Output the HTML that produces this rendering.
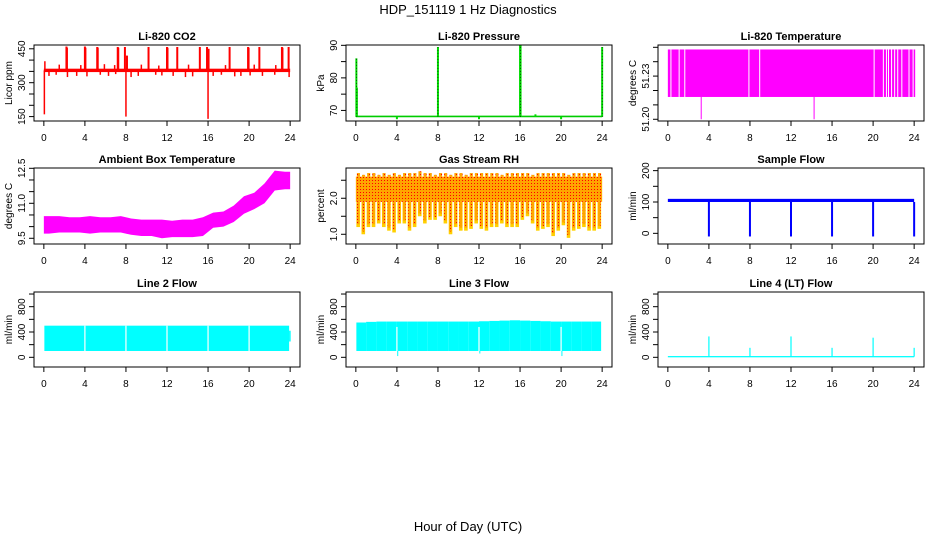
<!DOCTYPE html>
<html><head><meta charset="utf-8"><style>
body{margin:0;background:#fff}
svg text{font-family:"Liberation Sans",sans-serif}
</style></head><body>
<svg id="c" width="936" height="540" xmlns="http://www.w3.org/2000/svg">
<rect width="936" height="540" fill="#fff"/>
<text x="468" y="14" text-anchor="middle" font-size="13">HDP_151119 1 Hz Diagnostics</text>
<text x="468" y="531" text-anchor="middle" font-size="13">Hour of Day (UTC)</text>
</svg>
<script>
// ---- data ----
const xTicks = [0,4,8,12,16,20,24];
const co2Ticks = [150,200,250,300,350,400,450];
const co2TickLabels = ["150","","","300","","","450"];
const co2Base = [347,362];
const co2SpikeX = [0.05,0.1,2.2,2.25,4,4.05,5.2,5.25,7.2,7.25,7.9,8.0,8.1,10.2,12,12.05,13,15.2,15.9,16.0,16.05,18.1,19.9,19.95,21,23.2,23.25,23.85,0.5,1.2,2.3,3.2,4.2,5.5,6.3,7.0,8.5,9.2,10.9,11.5,12.6,13.8,14.5,16.5,17.3,18.6,19.2,20.1,21.3,22.5,23.9,1.5,3.6,5.9,6.9,9.5,11.2,14.1,17.7,20.5,22.6];
const co2SpikeY = [160,395,460,455,460,455,458,455,458,455,458,150,420,458,458,455,458,458,458,140,450,458,458,455,458,458,455,458,330,335,325,330,328,335,330,338,325,330,335,332,330,325,328,330,335,328,330,332,330,335,325,380,378,382,378,380,376,380,378,380,378];
const presTicks = [70,75,80,85,90];
const presTickLabels = ["70","","80","","90"];
const presBase = [67.9,68.4];
const presSpikeX = [0.05,0.1,8,16,16.05,24,4,12,20,17.5];
const presSpikeY = [86,77,89.5,90,90,89.5,67.3,67.3,67.3,68.8];
const tempTicks = [51.20,51.21,51.22,51.23,51.24,51.25];
const tempTickLabels = ["51.20","","","51.23","",""];
const tempBand = [51.2155,51.2485];
const tempGapX = [0.3,1.1,1.65,7.9,8.95,20.1,21.0,21.3,21.5,21.8,22.1,22.4,22.8,23.5,23.9];
const tempDipX = [3.25,14.25];
const tempDipY = [51.2,51.2];
const ambTicks = [9.5,10,10.5,11,11.5,12,12.5];
const ambTickLabels = ["9.5","","","11.0","","","12.5"];
const ambX  = [0.5,1.5,2.5,3.5,4.5,5.5,6.5,7.5,8.5,9.5,10.5,11.5,12.5,13.5,14.5,15.5,16.5,17.5,18.5,19.5,20.5,21.5,22.5,23.5];
const ambLo = [9.7,9.75,9.75,9.75,9.7,9.75,9.75,9.75,9.65,9.6,9.6,9.5,9.55,9.55,9.55,9.6,9.95,10.0,10.2,10.55,10.75,11.0,11.55,11.6];
const ambHi = [10.45,10.45,10.4,10.4,10.45,10.4,10.4,10.45,10.35,10.3,10.3,10.3,10.25,10.3,10.3,10.4,10.6,10.65,10.9,11.3,11.45,11.85,12.4,12.35];
const rhTicks = [1.0,1.5,2.0,2.5];
const rhTickLabels = ["1.0","","2.0",""];
const rhBand = [1.9,2.6];
const rhLo = [1.2,1.0,1.2,1.2,1.3,1.2,1.1,1.05,1.3,1.3,1.1,1.2,1.5,1.3,1.4,1.4,1.5,1.3,1.0,1.2,1.1,1.1,1.15,1.3,1.15,1.1,1.2,1.2,1.3,1.2,1.2,1.2,1.4,1.5,1.3,1.1,1.15,1.2,0.95,1.1,1.25,0.9,1.1,1.15,1.2,1.1,1.1,1.15];
const rhHi = [2.7,2.65,2.7,2.7,2.65,2.7,2.65,2.7,2.65,2.7,2.7,2.7,2.75,2.7,2.7,2.65,2.7,2.7,2.65,2.7,2.7,2.65,2.7,2.7,2.7,2.7,2.7,2.7,2.65,2.7,2.7,2.7,2.7,2.7,2.65,2.7,2.7,2.7,2.7,2.7,2.7,2.65,2.7,2.7,2.7,2.7,2.7,2.7];
const flowTicks = [0,50,100,150,200];
const flowTickLabels = ["0","","100","","200"];
const flowBand = [100,110];
const flowDipX = [4,8,12,16,20,24];
const flowDipY = [-10,-10,-10,-10,-10,-10];
const lineTicks = [0,200,400,600,800,1000];
const lineTickLabels = ["0","","400","","800",""];
const l2Band = [100,500];
const l2GapX = [4,8,12,16,20];
const l2End = [24,250,420];
const l3X  = [0.5,1.5,2.5,3.5,4.5,5.5,6.5,7.5,8.5,9.5,10.5,11.5,12.5,13.5,14.5,15.5,16.5,17.5,18.5,19.5,20.5,21.5,22.5,23.5];
const l3Hi = [550,560,565,565,565,565,565,565,565,565,565,565,570,575,580,585,580,575,570,565,565,565,565,565];
const l3Lo = 100;
const l3GapX = [4,12,20];
const l3DipY = [20,60,20];
const l4Band = [0,20];
const l4SpikeX = [4,8,12,16,20,24];
const l4SpikeY = [330,150,330,150,310,150];

// ---- drawing ----
const svg = document.getElementById('c');
const NS = 'http://www.w3.org/2000/svg';
function mk(tag, attrs, parent){ const e=document.createElementNS(NS,tag); for(const k in attrs) e.setAttribute(k,attrs[k]); (parent||svg).appendChild(e); return e; }
const colL=[34,346,658], W=266;
const rowT=[45,168,292], rowB=[121,244,367];
function panel(c,r,title,ylab,ymin,ymax,ticks,labels,name){
  const g=mk('g',{});
  
  
  const x0=colL[c], x1=x0+W, y0=rowT[r], y1=rowB[r];
  const sx=v=>x0+(v+0.96)/25.92*W;
  const sy=v=>y1-(v-ymin)/(ymax-ymin)*(y1-y0);
  const plot=mk('g',{},g);
  
  
  const box=mk('rect',{x:x0,y:y0,width:W,height:y1-y0,fill:'none',stroke:'#000','stroke-width':1},g);
  
  
  const t=mk('text',{x:(x0+x1)/2,y:y0-5,'text-anchor':'middle','font-size':11,'font-weight':'bold'},g); t.textContent=title;
  
  
  xTicks.forEach(v=>{ mk('line',{x1:sx(v),x2:sx(v),y1:y1,y2:y1+5,stroke:'#000'},g);
    const l=mk('text',{x:sx(v),y:y1+20,'text-anchor':'middle','font-size':10},g); l.textContent=v;
    
     });
  ticks.forEach((v,i)=>{ mk('line',{x1:x0,x2:x0-5,y1:sy(v),y2:sy(v),stroke:'#000'},g);
    if(labels[i]){ const l=mk('text',{x:0,y:0,'text-anchor':'middle','font-size':10,transform:`translate(${x0-9},${sy(v)}) rotate(-90)`},g); l.textContent=labels[i];
    
     } });
  const yl=mk('text',{x:0,y:0,'text-anchor':'middle','font-size':10,transform:`translate(${x0-22},${(y0+y1)/2}) rotate(-90)`},g); yl.textContent=ylab;
  
  
  return {sx,sy,g:plot};
}
function band(p,xa,xb,lo,hi,col){ const y1=p.sy(lo),y2=p.sy(hi); return mk('rect',{x:p.sx(xa),y:Math.min(y1,y2),width:p.sx(xb)-p.sx(xa),height:Math.max(1,Math.abs(y1-y2)),fill:col},p.g); }
function vline(p,x,a,b,col,w){ return mk('line',{x1:p.sx(x),x2:p.sx(x),y1:p.sy(a),y2:p.sy(b),stroke:col,'stroke-width':w||1},p.g); }

// CO2
let p=panel(0,0,'Li-820 CO2','Licor ppm',130.5,466.8,co2Ticks,co2TickLabels,'co2');
band(p,0,24,co2Base[0],co2Base[1],'#f00');
co2SpikeX.forEach((x,i)=>vline(p,x,(co2Base[0]+co2Base[1])/2,co2SpikeY[i],'#f00',co2SpikeY[i]>400?2:1.5));
// Pressure
p=panel(1,0,'Li-820 Pressure','kPa',66.75,90.1,presTicks,presTickLabels,'pressure');
band(p,0,24,presBase[0],presBase[1],'#0c0');
presSpikeX.forEach((x,i)=>{ vline(p,x,68,presSpikeY[i],'#0d0',2); if(presSpikeY[i]>70) vline(p,x,68,presSpikeY[i],'#000',0.6).setAttribute('stroke-dasharray','1 2'); });
// Li-820 temperature
p=panel(2,0,'Li-820 Temperature','degrees C',51.1988,51.2516,tempTicks,tempTickLabels,'licor-temp');
band(p,0,24.1,tempBand[0],tempBand[1],'#f0f');
tempGapX.forEach(x=>vline(p,x,tempBand[0],tempBand[1],'#fff',1));
tempDipX.forEach((x,i)=>vline(p,x,tempBand[0],tempDipY[i],'#f0f',1));
// Ambient
p=panel(0,1,'Ambient Box Temperature','degrees C',9.255,12.513,ambTicks,ambTickLabels,'ambient-temp');
{ let pts=ambX.map((x,i)=>p.sx(x)+','+p.sy(ambHi[i]));
  pts.unshift(p.sx(0)+','+p.sy(ambHi[0])); pts.push(p.sx(24)+','+p.sy(ambHi[ambHi.length-1]));
  const lo=ambX.map((x,i)=>p.sx(x)+','+p.sy(ambLo[i])).reverse();
  pts=pts.concat([p.sx(24)+','+p.sy(ambLo[ambLo.length-1])],lo,[p.sx(0)+','+p.sy(ambLo[0])]);
  mk('polygon',{points:pts.join(' '),fill:'#f0f'},p.g); }
// RH
p=panel(1,1,'Gas Stream RH','percent',0.73,2.84,rhTicks,rhTickLabels,'gas-rh');
{ const d=mk('defs',{}); const pt=mk('pattern',{id:'dots',width:3,height:3,patternUnits:'userSpaceOnUse'},d);
  mk('rect',{width:3,height:3,fill:'#ffa500'},pt); mk('rect',{width:1,height:1,fill:'#f00'},pt); }
rhLo.forEach((v,i)=>{ const x=i*0.5; band(p,x+0.05,x+0.4,v,rhBand[0],'#ffd000'); band(p,x+0.1,x+0.35,v+0.08,rhBand[0],'url(#dots)'); band(p,x+0.1,x+0.4,rhBand[1],rhHi[i],'url(#dots)'); });
band(p,0,24,rhBand[0],rhBand[1],'url(#dots)');
// Sample flow
p=panel(2,1,'Sample Flow','ml/min',-34,208.4,flowTicks,flowTickLabels,'sample-flow');
band(p,0,24,flowBand[0],flowBand[1],'#00f');
flowDipX.forEach((x,i)=>vline(p,x,flowBand[0],flowDipY[i],'#00f',2));
// Line 2
p=panel(0,2,'Line 2 Flow','ml/min',-153,1032,lineTicks,lineTickLabels,'line2-flow');
band(p,0.05,23.9,l2Band[0],l2Band[1],'#0ff');
l2GapX.forEach(x=>vline(p,x,l2Band[0],l2Band[1],'#fff',1.2));
band(p,l2End[0]-0.1,l2End[0]+0.05,l2End[1],l2End[2],'#0ff');
// Line 3
p=panel(1,2,'Line 3 Flow','ml/min',-153,1032,lineTicks,lineTickLabels,'line3-flow');
l3X.forEach((x,i)=>band(p,x-0.5+(i?0:0.05),x+0.5-(i==23?0.1:0),l3Lo,l3Hi[i],'#0ff'));
l3GapX.forEach((x,i)=>{ vline(p,x,l3Lo,480,'#fff',1.2); vline(p,x+0.08,l3Lo,l3DipY[i],'#0ff',1); });
// Line 4
p=panel(2,2,'Line 4 (LT) Flow','ml/min',-153,1032,lineTicks,lineTickLabels,'line4-flow');
band(p,0,24,l4Band[0],l4Band[1],'#0ff');
l4SpikeX.forEach((x,i)=>vline(p,x,10,l4SpikeY[i],'#0ff',1.2));
</script>
</body></html>
